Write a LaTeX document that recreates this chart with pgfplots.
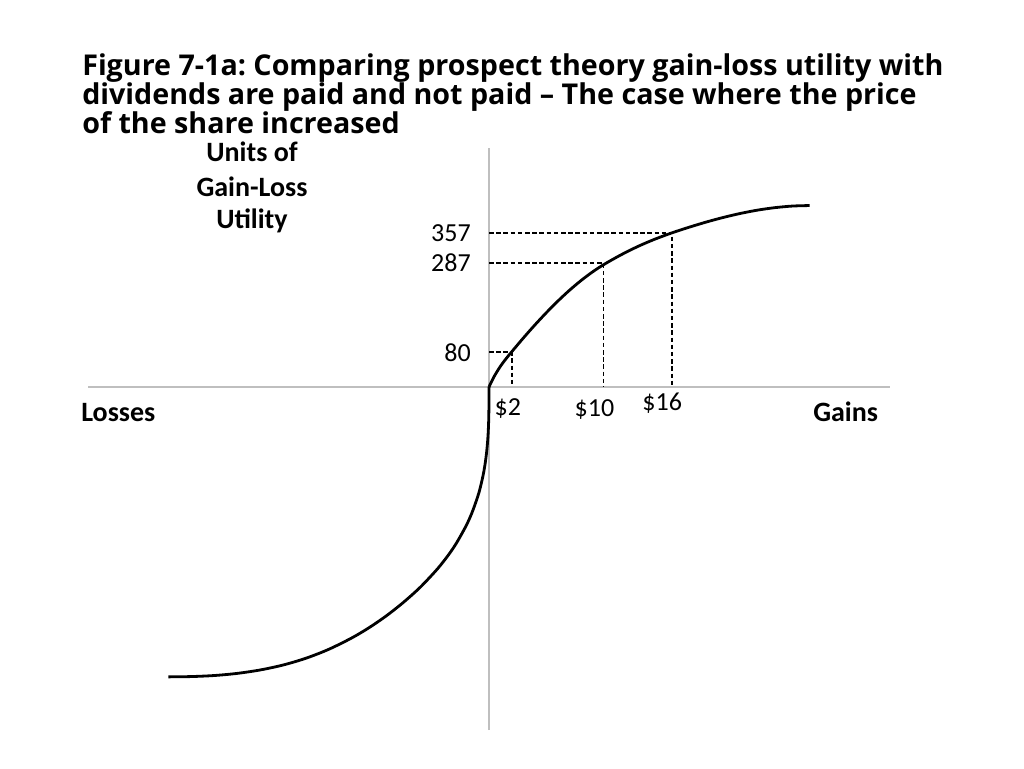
\documentclass[border=0pt]{standalone}
\usepackage{fontspec}
\setmainfont{Carlito}
\newfontfamily\titlefont{Open Sans}
\usepackage{pgfplots}
\pgfplotsset{compat=1.18}
\begin{document}
\frenchspacing
\begin{tikzpicture}
\path[use as bounding box] (0pt,0pt) rectangle (768pt,576pt);
% title
\begin{scope}[every node/.style={anchor=base west, inner sep=0pt, font=\titlefont\bfseries\fontsize{21.5}{24}\selectfont}]
\node at (61.5pt,519pt) {Figure 7-1a: Comparing prospect theory gain-loss utility with};
\node at (61.5pt,497.25pt) {dividends are paid and not paid – The case where the price};
\node at (61.5pt,475.75pt) {of the share increased};
\end{scope}
\begin{scope}[every node/.style={anchor=base, inner sep=0pt, font=\bfseries\fontsize{21}{24}\selectfont}]
\node at (189pt,454.7pt) {Units of};
\node at (189pt,428.5pt) {Gain-Loss};
\node at (189pt,404.25pt) {Utility};
\end{scope}
\node[anchor=base west, inner sep=0pt, font=\bfseries\fontsize{21}{24}\selectfont] at (60.75pt,259.5pt) {Losses};
\node[anchor=base west, inner sep=0pt, font=\bfseries\fontsize{21}{24}\selectfont] at (609.75pt,259.5pt) {Gains};
\begin{axis}[
  at={(66pt,28.5pt)}, anchor=south west,
  scale only axis, width=601.5pt, height=436.5pt,
  xmin=-35.02, xmax=35.02, ymin=-794, ymax=553.2,
  axis lines=middle,
  axis line style={-, draw=black!25, line width=0.8pt},
  xtick=\empty,
  ytick={80,287,357}, yticklabels={80,287,357},
  major tick length=0pt,
  yticklabel style={anchor=east, inner sep=0pt, xshift=-13.5pt, font=\fontsize{19.5}{22}\selectfont},
  clip=false,
]
% gains side
\addplot[black, line width=2.1pt, smooth, line join=round] coordinates {
  (0,0) (0.25,14.1) (0.5,26.7) (1,48) (1.5,65.8) (2,82) (3,113.4) (4,143.4) (5,171.8)
  (6,198.5) (7,223.2) (8,245.6) (9,265.6) (10,283) (11.5,305.5) (13,325.3) (14.5,342.3)
  (16,357) (17.5,370.0) (19,382.0) (20.5,392.7) (22,402.0) (23.5,409.6) (25,415.2)
  (26.5,418.8) (28,420)
};
% losses side
\addplot[black, line width=2.1pt, smooth, line join=round] coordinates {
  (-28,-671) (-26,-670.3) (-24,-667.9) (-22,-663.0) (-20,-655.1) (-18,-643.7) (-16,-628.0)
  (-14,-607.3) (-12,-581.1) (-10.5,-557.6) (-9,-530.4) (-7.5,-499.1) (-6,-463.4) (-4.5,-421.0)
  (-3.5,-387.2) (-2.8,-359.4) (-2,-321.3) (-1.5,-291.9) (-1,-255) (-0.75,-231.7) (-0.5,-202.4)
  (-0.35,-179.7) (-0.2,-149.1) (-0.1,-118.4) (-0.06,-99.8) (-0.03,-79.2) (-0.01,-54.9)
  (-0.003,-36.8) (-0.001,-25.5) (0,0)
};
% reference lines
\addplot[black, line width=1.4pt, dash pattern=on 3.4pt off 2pt] coordinates {(0,80) (2,80) (2,0)};
\addplot[black, line width=1.4pt, dash pattern=on 3.4pt off 2pt] coordinates {(0,287) (10,287) (10,0)};
\addplot[black, line width=1.6pt, dash pattern=on 3.4pt off 2pt] coordinates {(0,357) (16,357) (16,0)};
% x labels
\node[anchor=base, inner sep=0pt, font=\fontsize{19.5}{22}\selectfont] at (axis cs:2,0) [xshift=-3pt, yshift=-21.5pt] {\$2};
\node[anchor=base, inner sep=0pt, font=\fontsize{19.5}{22}\selectfont] at (axis cs:10,0) [xshift=-6.75pt, yshift=-22.5pt] {\$10};
\node[anchor=base, inner sep=0pt, font=\fontsize{19.5}{22}\selectfont] at (axis cs:16,0) [xshift=-7.5pt, yshift=-17.5pt] {\$16};
\end{axis}
\end{tikzpicture}
\end{document}
